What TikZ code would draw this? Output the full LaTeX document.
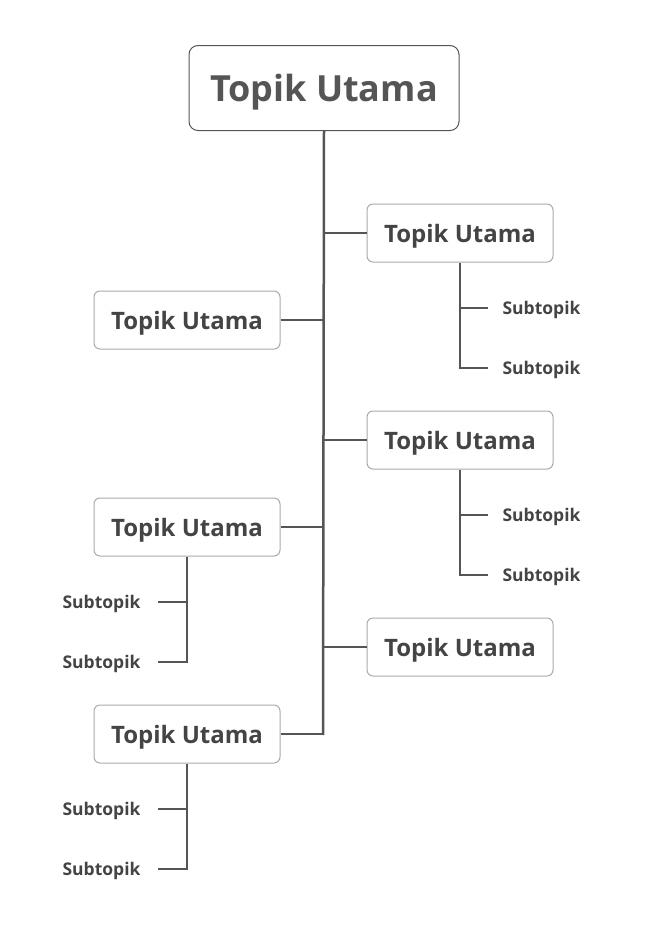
\documentclass[tikz,border=0pt]{standalone}
\usepackage{fontspec}
\setmainfont{Open Sans}
\definecolor{linegray}{HTML}{555555}
\definecolor{boxgray}{HTML}{AAAAAA}
\definecolor{txtgray}{HTML}{444444}
\begin{document}
\begin{tikzpicture}[x=1pt, y=-1pt,
    topicbox/.style={draw=boxgray, line width=1pt, rounded corners=6pt, minimum width=186pt, minimum height=58pt, text depth=0pt, text=txtgray, font=\bfseries\fontsize{24}{26}\selectfont},
    subtext/.style={text=txtgray, text depth=0pt, font=\bfseries\fontsize{17.5}{19}\selectfont},
    link/.style={linegray, line width=2.5pt}]
        \useasboundingbox (0,0) rectangle (649,945);
        % Root
        \node[draw=linegray, line width=1pt, rounded corners=9pt, minimum width=270pt, minimum height=85pt, text depth=0pt, text=linegray, font=\bfseries\fontsize{36}{40}\selectfont] (root) at (324,88) {Topik Utama};
        \coordinate (trunkend) at (323,735);
        \draw[link] (root.south) -- (trunkend);
        % Right topics
        \node[topicbox] (r1) at (460,233) {Topik Utama};
        \node[topicbox] (r2) at (460,440) {Topik Utama};
        \node[topicbox] (r3) at (460,647) {Topik Utama};
        \foreach \n in {r1,r2,r3} {
          \draw[link] (\n.west) -- (\n.west -| root.south);
        }
        % Left topics
        \node[topicbox] (l1) at (187,320) {Topik Utama};
        \node[topicbox] (l2) at (187,527) {Topik Utama};
        \node[topicbox] (l3) at (187,734) {Topik Utama};
        \foreach \n in {l1,l2,l3} {
          \draw[link] (\n.east) -- (\n.east -| root.south);
        }
        % Subtopics right
        \foreach \n/\y in {r1/308, r2/515} {
          \node[subtext, anchor=west] (\n a) at (499,\y) {Subtopik};
          \node[subtext, anchor=west] (\n b) at (499,\y+60) {Subtopik};
          \draw[link] (\n.south) |- ([xshift=-11pt]\n b.west);
          \draw[link] (\n.south |- \n a.west) -- ([xshift=-11pt]\n a.west);
        }
        % Subtopics left
        \foreach \n/\y in {l2/602, l3/809} {
          \node[subtext, anchor=east] (\n a) at (144,\y) {Subtopik};
          \node[subtext, anchor=east] (\n b) at (144,\y+60) {Subtopik};
          \draw[link] (\n.south) |- ([xshift=14pt]\n b.east);
          \draw[link] (\n.south |- \n a.east) -- ([xshift=14pt]\n a.east);
        }
\end{tikzpicture}
\end{document}
